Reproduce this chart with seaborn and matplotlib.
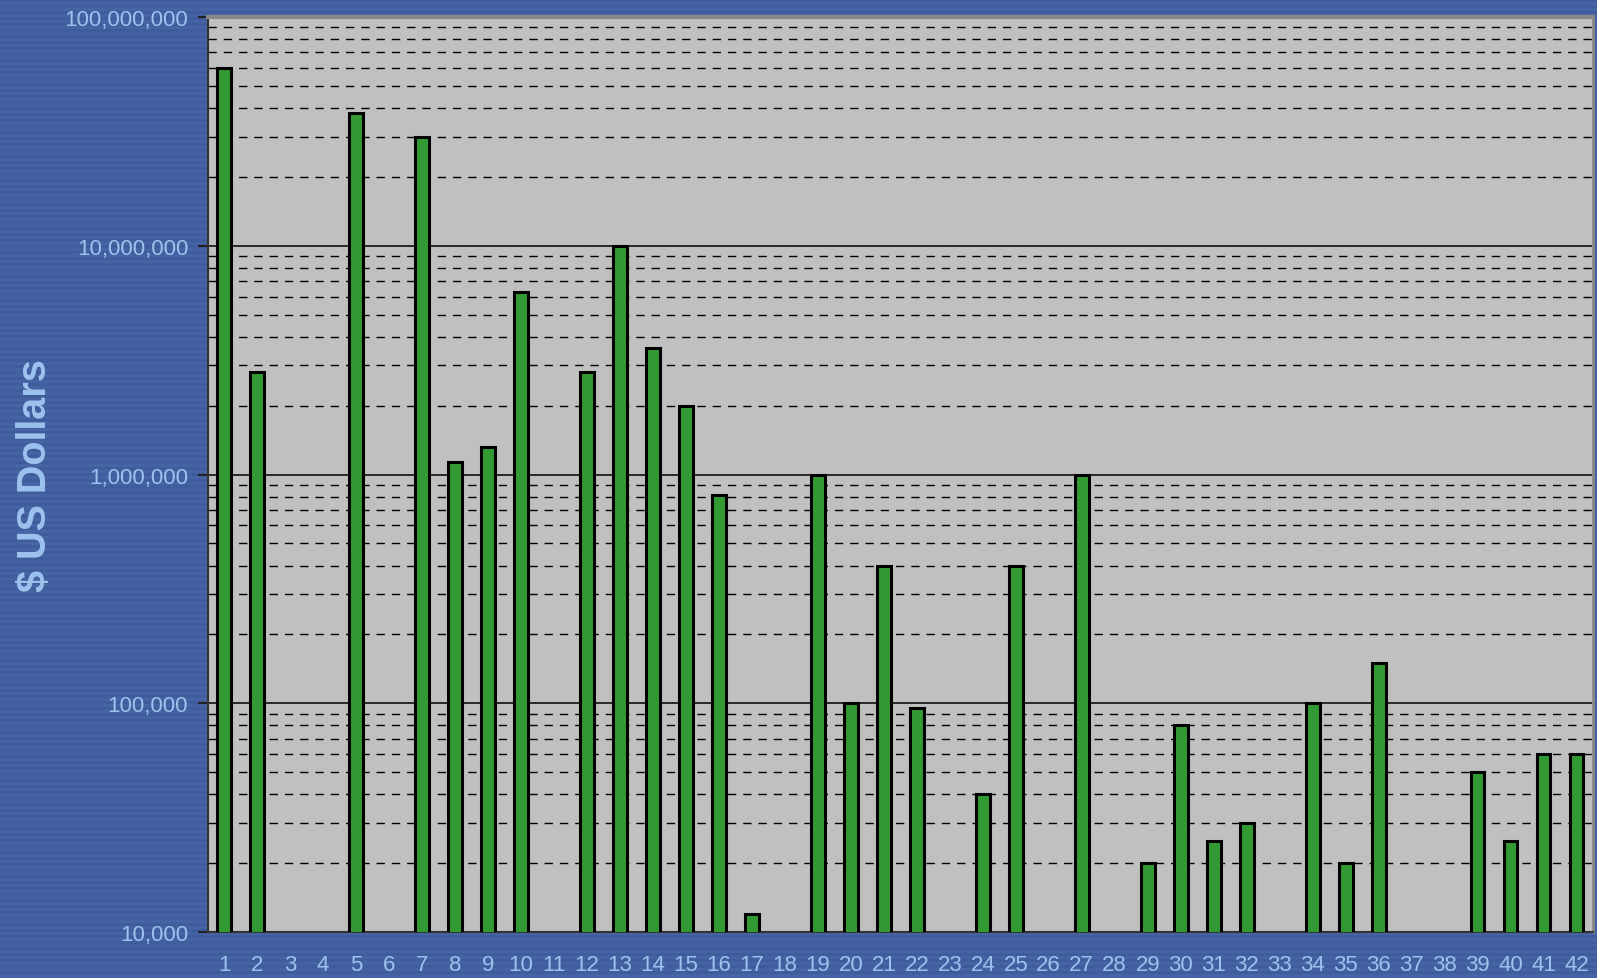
import numpy as np
import pandas as pd
import matplotlib
matplotlib.use("Agg")
import matplotlib.pyplot as plt
import matplotlib.ticker as mticker
import seaborn as sns

# ================================
# Data
# ================================
categories = [str(i) for i in range(1, 43)]
values = [
    60000000, 2800000, np.nan, np.nan, 38000000, np.nan, 30000000, 1130000,
    1320000, 6300000, np.nan, 2800000, 10000000, 3560000, 2000000, 815000,
    12000, np.nan, 1000000, 100000, 400000, 95000, np.nan, 40000,
    400000, np.nan, 1000000, np.nan, 20000, 80000, 25000, 30000,
    np.nan, 100000, 20000, 150000, np.nan, np.nan, 50000, 25000,
    60000, 60000,
]
ytick_values = [10000, 100000, 1000000, 10000000, 100000000]
ytick_labels = ["10,000", "100,000", "1,000,000", "10,000,000", "100,000,000"]

df = pd.DataFrame({"item": categories, "usd": values})

# ================================
# Colours
# ================================
bg_blue = "#3f5d9c"
stripe_blue = "#4664a4"
text_blue = "#9cc2ee"
bar_green = "#339933"
plot_gray = "#c0c0c0"

sns.set_style("white")
plt.rcParams["font.family"] = ["Liberation Sans", "DejaVu Sans"]

fig = plt.figure(figsize=(15.97, 9.79), dpi=100)
fig.patch.set_facecolor(bg_blue)

# striped backdrop
bg = fig.add_axes([0, 0, 1, 1], zorder=-10)
rows = np.arange(979)
stripes = ((rows // 3) % 2).reshape(-1, 1)
bg.imshow(stripes, aspect="auto", cmap=matplotlib.colors.ListedColormap([bg_blue, stripe_blue]),
          interpolation="nearest", extent=[0, 1, 0, 1])
bg.axis("off")

ax = fig.add_axes([0.130, 0.047, 0.8675, 0.9346])
ax.set_facecolor(plot_gray)
ax.set_yscale("log")

sns.barplot(data=df, x="item", y="usd", order=categories, color=bar_green,
            saturation=1, width=0.42, edgecolor="black", linewidth=2.2, ax=ax, zorder=3)

ax.set_ylim(10000, 100000000)
ax.set_xlim(-0.5, len(categories) - 0.5)

# grid: solid at decades, dashed in between
ax.yaxis.set_major_locator(mticker.FixedLocator(ytick_values))
ax.yaxis.set_major_formatter(mticker.FixedFormatter(ytick_labels))
ax.yaxis.set_minor_locator(mticker.LogLocator(base=10, subs=np.arange(2, 10)))
ax.yaxis.set_minor_formatter(mticker.NullFormatter())
ax.grid(axis="y", which="major", color="black", linestyle="-", linewidth=1.1, zorder=1)
ax.grid(axis="y", which="minor", color="black", linestyle=(0, (6, 5)), linewidth=1.0, zorder=1)
ax.set_axisbelow(True)

# x ticks between categories
ax.set_xticks(np.arange(len(categories)))
ax.set_xticklabels(categories)
ax.set_xticks(np.arange(len(categories) + 1) - 0.5, minor=True)
ax.tick_params(axis="x", which="major", length=0, pad=16, labelsize=16, labelcolor=text_blue)
ax.tick_params(axis="x", which="minor", length=5, width=1.5, color="#333333", direction="out")
ax.tick_params(axis="y", which="major", length=7, width=1.5, color="#222222", direction="out",
               left=True, labelsize=16, labelcolor=text_blue, pad=7)
ax.tick_params(axis="y", which="minor", length=0)

for side in ["left", "bottom"]:
    ax.spines[side].set_color("#333333")
    ax.spines[side].set_linewidth(1.5)
ax.spines["top"].set_color("#888888")
ax.spines["top"].set_linewidth(3)
ax.spines["right"].set_color("#888888")
ax.spines["right"].set_linewidth(2)

ax.set_xlabel("")
ax.set_ylabel("")
fig.text(0.022, 0.514, "$ US Dollars", rotation=90, ha="center", va="center",
         fontsize=28.5, fontweight="bold", color=text_blue)

fig.savefig("out.png", dpi=100, facecolor=fig.get_facecolor())
